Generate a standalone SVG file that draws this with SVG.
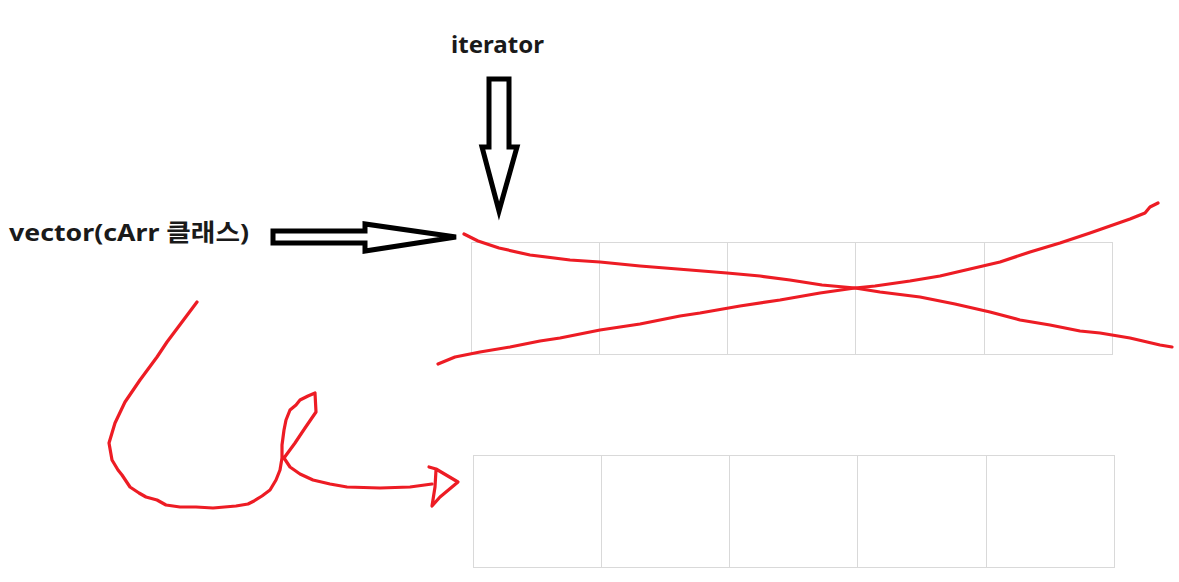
<svg xmlns="http://www.w3.org/2000/svg" width="1179" height="582" viewBox="0 0 1179 582">
<style>
.lbl{font-family:"Noto Sans","Noto Sans CJK KR","Liberation Sans",sans-serif;font-weight:bold;font-size:24px;fill:#1a1a1a}
.grid{fill:none;stroke:#d9d9d9;stroke-width:1}
.blk{fill:#fff;stroke:#000;stroke-width:5;stroke-linejoin:miter}
.red{fill:none;stroke:#ed1c24;stroke-width:3.2;stroke-linecap:round;stroke-linejoin:round}
</style>
<rect width="1179" height="582" fill="#fff"/>
<g id="array-top">
<rect class="grid" x="471.5" y="242.5" width="641" height="112"/>
<path class="grid" d="M599.5 242.5V354.5M727.5 242.5V354.5M855.5 242.5V354.5M984.5 242.5V354.5"/>
</g>
<g id="array-bottom">
<rect class="grid" x="473.5" y="455.5" width="641" height="112"/>
<path class="grid" d="M601.5 455.5V567.5M729.5 455.5V567.5M857.5 455.5V567.5M986.5 455.5V567.5"/>
</g>
<g id="label-iterator"><text class="lbl" x="451" y="53" textLength="93" lengthAdjust="spacingAndGlyphs">iterator</text></g>
<g id="label-vector"><text class="lbl" x="9" y="241" textLength="240" lengthAdjust="spacingAndGlyphs">vector(cArr 클래스)</text></g>
<g id="connectors">
<path class="blk" d="M489 79H509V147H517L499 211L482 147H489Z"/>
<path class="blk" d="M273 231H365V224L456 237L365 251V243H273Z"/>
<path class="red" d="M464 234L478 241L499 248L530 255L570 260L600 262L640 266L690 270L727 273L760 276L790 280L822 285L855 288L880 292L920 297L955 304L990 312L1020 320L1050 325L1080 331L1100 333L1130 338L1160 345L1172 347"/>
<path class="red" d="M438 364L455 357L480 352L510 347L540 341L560 338L600 330L640 324L680 316L700 313L740 306L780 300L820 293L855 288L875 286L910 281L940 276L970 269L1000 262L1030 252L1060 243L1090 233L1110 226L1130 219L1145 213L1150 207L1158 203"/>
<path class="red" d="M197 302L182 322L167 342L157 357L140 380L125 402L115 423L109 443L112 460L118 470L122 475L130 487L139 493L146 497L157 500L166 505L180 507L196 507L213 508L236 506L248 504L254 501L262 496L270 490L276 480L280 470L282 458L282 445L284 430L286 420L290 410L296 405L300 400L308 396L315 393L316 412L305 428L295 443L284 458L290 467L300 474L313 480L330 484L347 487L380 488L410 487L432 484"/>
<path class="red" d="M429 467L436 469L458 482L440 497L432 506L435 487L436 470"/>
</g>
</svg>
